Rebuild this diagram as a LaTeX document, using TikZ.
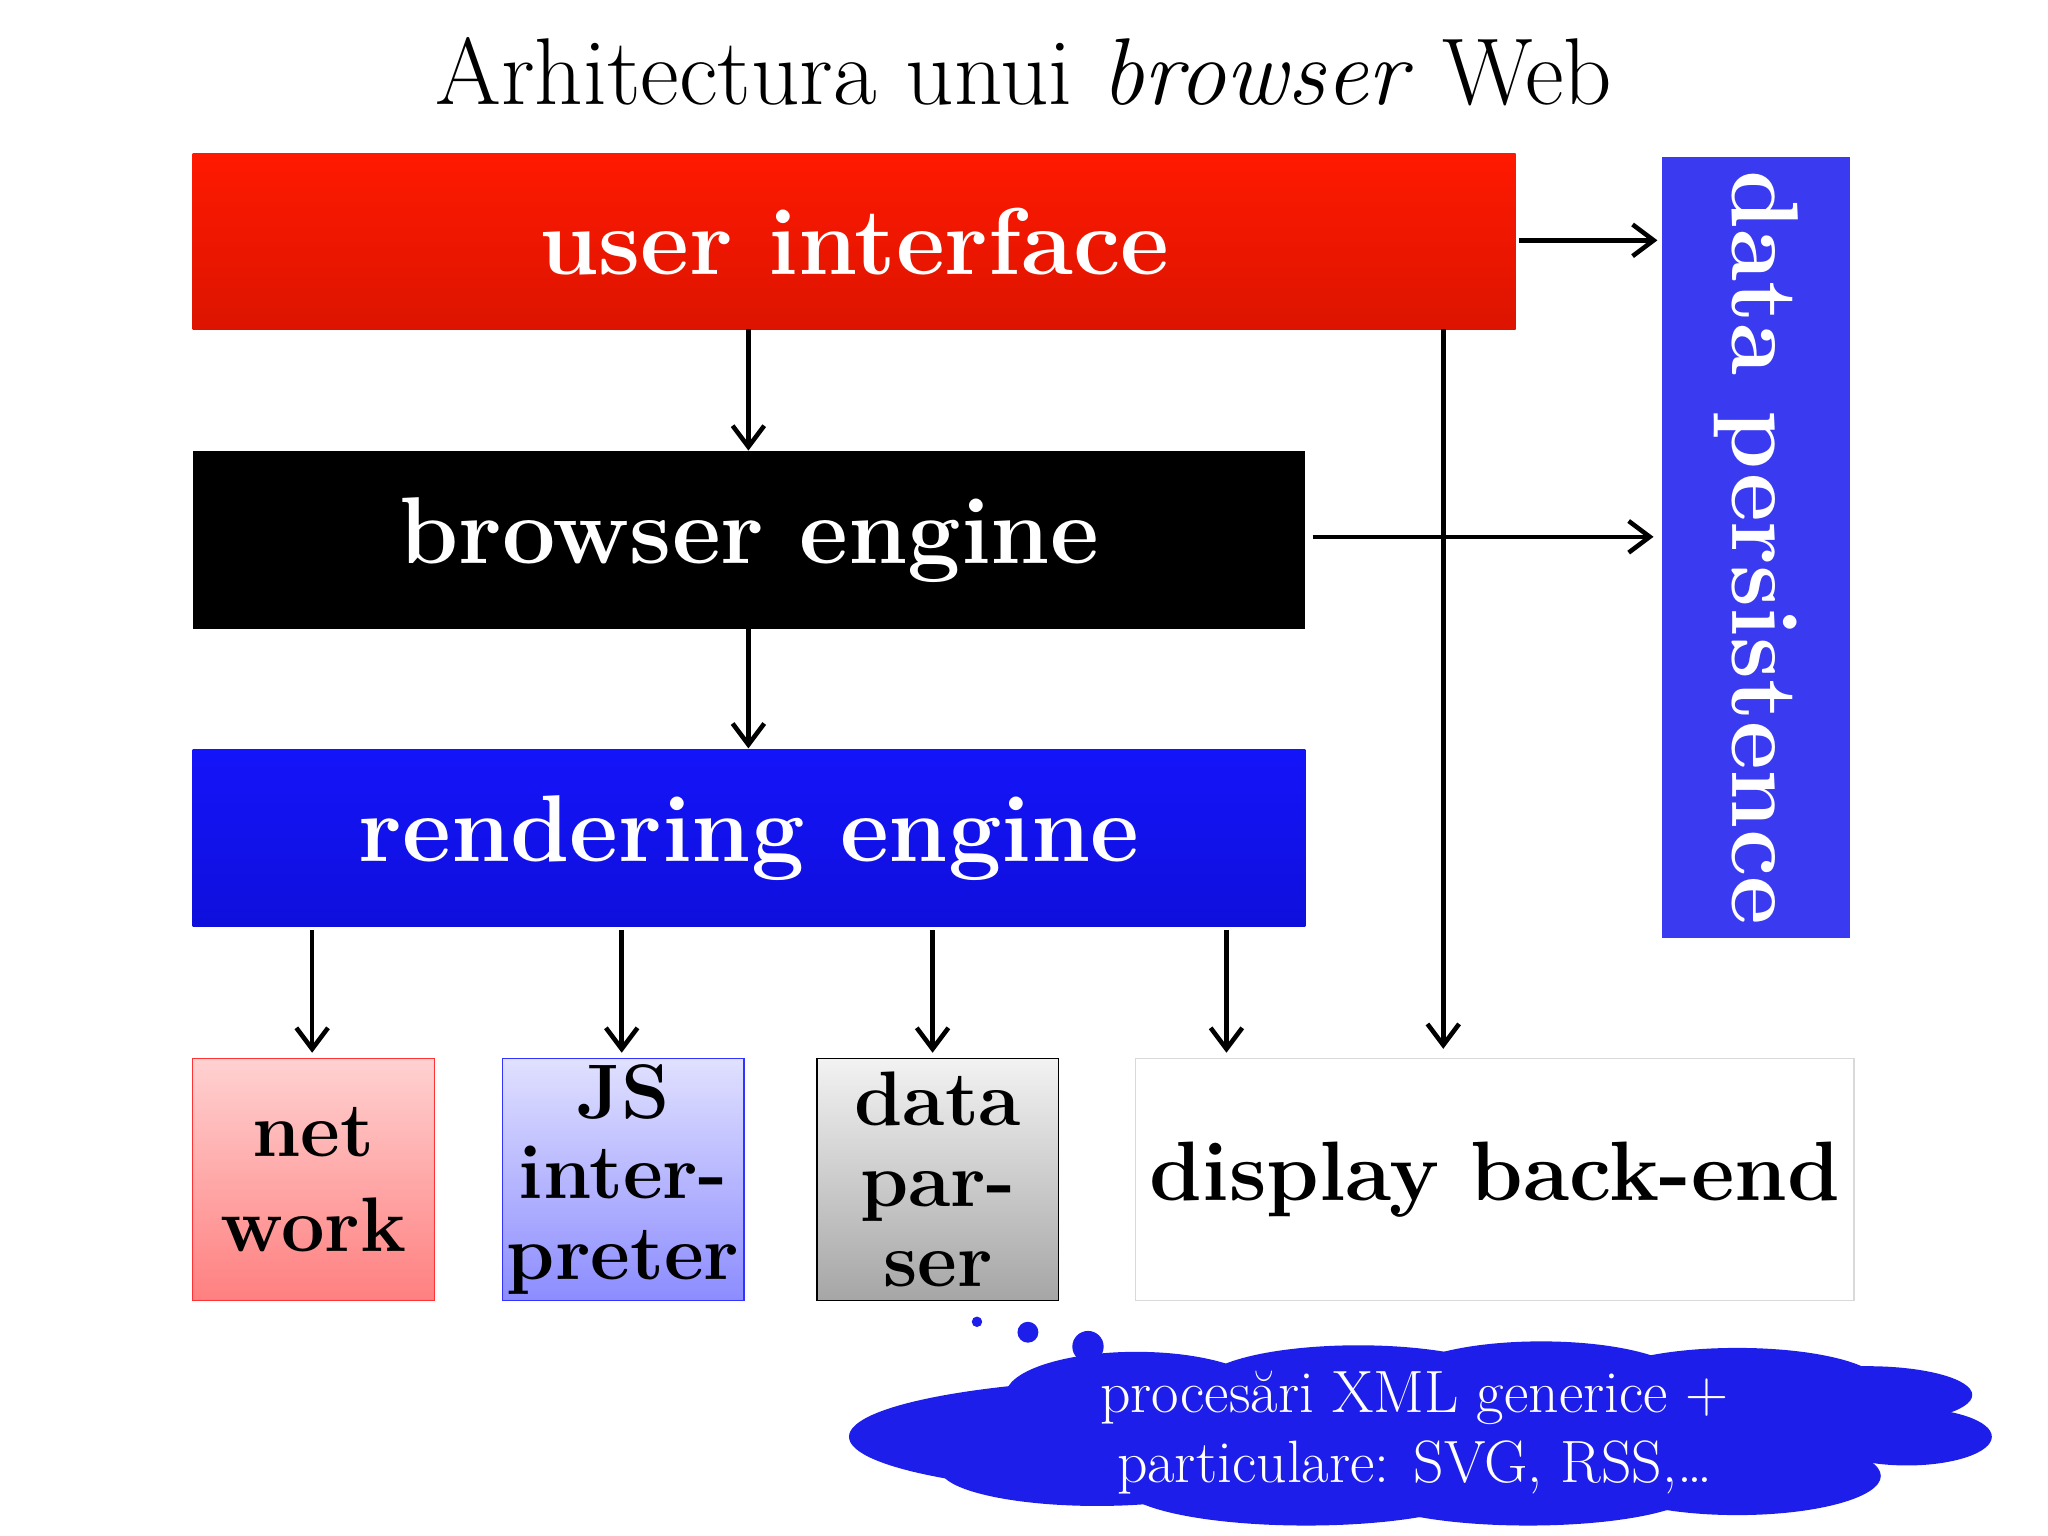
\documentclass[tikz,border=0pt]{standalone}
\usetikzlibrary{arrows.meta}
\definecolor{uired}{RGB}{255,25,0}
\definecolor{uireddark}{RGB}{220,20,0}
\definecolor{rblue}{RGB}{20,20,250}
\definecolor{rbluedark}{RGB}{15,15,220}
\definecolor{pblue}{RGB}{58,58,240}
\definecolor{cblue}{RGB}{30,30,235}
\begin{document}
\begin{tikzpicture}[x=0.013061cm,y=-0.013061cm,
  blk/.style 2 args={draw=none,minimum width={#1*0.3716pt},minimum height={#2*0.3716pt},inner sep=0pt,anchor=north west,font=\bfseries\fontsize{27}{30}\selectfont},
  small/.style={anchor=north west,minimum width={185*0.3716pt},minimum height={185*0.3716pt},inner sep=0pt,align=center,font=\bfseries\fontsize{22}{23}\selectfont},
  arr/.style={-{Straight Barb[length=6pt,width=9pt]},line width=1.3pt}]
\useasboundingbox (0,0) rectangle (1568,1176);
\node[font=\fontsize{27}{30}\selectfont] (title) at (784,55) {Arhitectura unui \textit{browser} Web};
\node[blk={1013}{135},top color=uired,bottom color=uireddark,text=white] (ui) at (147,117) {user interface};
\node[blk={852}{136},fill=black,text=white] (be) at (147,345) {browser engine};
\node[blk={852}{136},top color=rblue,bottom color=rbluedark,text=white] (re) at (147,573) {rendering engine};
\node[blk={144}{598},fill=pblue,text=white] (dp) at (1272,120) {};
\node[rotate=-90,text=white,font=\bfseries\fontsize{27}{30}\selectfont] (dpt) at (dp.center) {data persistence};
\node[small,draw=red!80,top color=red!18,bottom color=red!50] (nw) at (147,810) {net\\[4pt]work};
\node[small,draw=blue!80,top color=blue!12,bottom color=blue!45] (js) at (384,810) {JS\\inter-\\preter};
\node[small,draw=black,top color=black!5,bottom color=black!35] (pa) at (625,810) {data\\par-\\ser};
\node[small,minimum width={550*0.3716pt},draw=black!15,font=\bfseries\fontsize{24}{26}\selectfont] (db) at (869,810) {display back-end};
% arrows
\coordinate (ui1) at (573,252); \coordinate (be1) at (573,345);
\draw[arr] (ui1) -- (be1);
\coordinate (be2) at (573,481); \coordinate (re2) at (573,573);
\draw[arr] (be2) -- (re2);
\coordinate (uir) at (1163,184); \coordinate (dp1) at (1269,184);
\draw[arr] (uir) -- (dp1);
\coordinate (ber) at (1005,411); \coordinate (dp2) at (1266,411);
\draw[arr] (ber) -- (dp2);
\coordinate (uib) at (1105,252); \coordinate (db1) at (1105,803);
\draw[arr] (uib) -- (db1);
\foreach \x/\t in {239/nw,476/js,714/pa,939/db}{
  \coordinate (s\t) at (\x,712); \coordinate (e\t) at (\x,806);
  \draw[arr] (s\t) -- (e\t);}
% cloud
\begin{scope}[fill=cblue]
\foreach \cx/\cy/\rx/\ry in {790/1092/95/28, 870/1068/100/33, 1040/1060/120/30, 1180/1057/110/30,
  1330/1060/110/28, 1430/1068/80/22, 1460/1100/65/22, 1330/1130/110/30, 1170/1140/130/28,
  1000/1138/140/30, 840/1125/120/28, 900/1100/250/45, 1200/1100/250/45}
  \fill (\cx,\cy) ellipse [x radius=\rx, y radius=\ry];
\fill (748,1012) circle (4); \fill (787,1020) circle (8); \fill (833,1031) circle (12);
\end{scope}
\node[text=white,align=center,font=\fontsize{17}{20}\selectfont] (ct) at (1083,1097) {procesări XML generice +\\particulare: SVG, RSS,\dots};
\end{tikzpicture}
\end{document}
